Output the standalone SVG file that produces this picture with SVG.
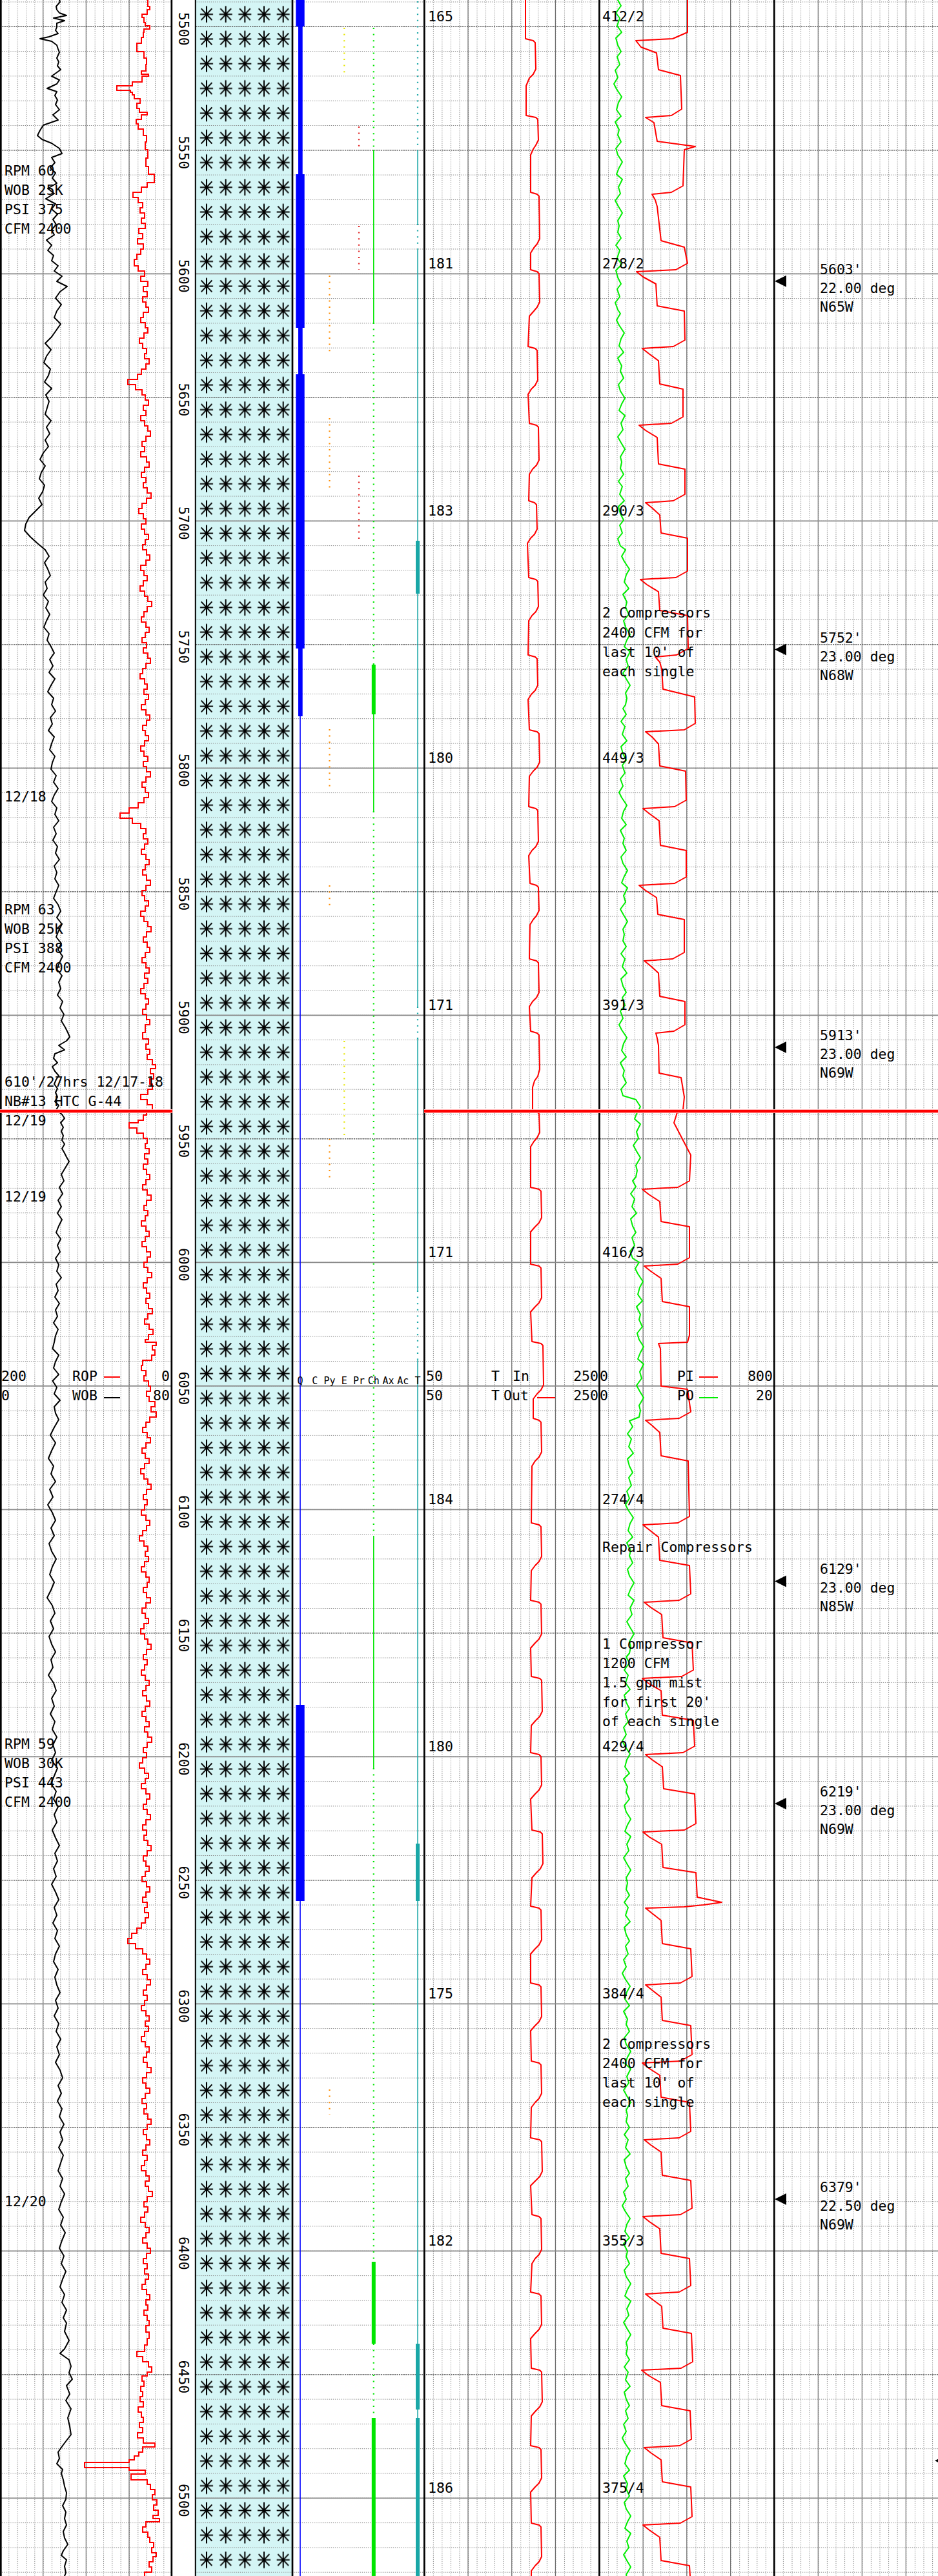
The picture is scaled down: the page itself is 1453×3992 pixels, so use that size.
<svg xmlns="http://www.w3.org/2000/svg" width="1453" height="3992" viewBox="0 0 1453 3992">
<defs>
<style>
text{font-family:"DejaVu Sans Mono","Liberation Mono",monospace;font-size:21.5px;fill:#000}
.sm{font-size:15px}
.ctr{text-anchor:middle}
.end{text-anchor:end}
.gmaj{stroke:#707070;stroke-width:1.2;fill:none}
.h50{stroke:#505050;stroke-width:1.2;stroke-dasharray:2 1.5;fill:none}
.h100{stroke:#8a8a8a;stroke-width:1.7;fill:none}
.bd{stroke:#000;fill:none}
.crv{fill:none;stroke-linejoin:round;stroke-linecap:round}
.dot{fill:none;stroke-width:2.2;stroke-dasharray:2 7.6}
.sol{fill:none;stroke-width:1.5}
.thk{fill:none;stroke-width:6}
.cg{stroke:#00e600}.cc{stroke:#1aa7a7}.cy{stroke:#e6e600}.cr{stroke:#e02020}.co{stroke:#ff8c00}
</style>
<pattern id="v1" patternUnits="userSpaceOnUse" x="0" y="0" width="13.333" height="3"><rect width="1" height="1.3" fill="#8c8c8c"/></pattern>
<pattern id="vT" patternUnits="userSpaceOnUse" x="657.3" y="0" width="13.54" height="3"><rect width="1" height="1.3" fill="#8c8c8c"/></pattern>
<pattern id="vP" patternUnits="userSpaceOnUse" x="928.4" y="0" width="13.55" height="3"><rect width="1" height="1.3" fill="#8c8c8c"/></pattern>
<pattern id="vA" patternUnits="userSpaceOnUse" x="1199.3" y="0" width="13.6" height="3"><rect width="1" height="1.3" fill="#8c8c8c"/></pattern>
<pattern id="hm" patternUnits="userSpaceOnUse" x="0" y="2.5" width="3" height="38.3"><rect width="1.3" height="1" fill="#8c8c8c"/></pattern>
<pattern id="lith" patternUnits="userSpaceOnUse" x="305.17" y="3" width="29.67" height="38.3">
<path d="M14.83,6.5V31.8M4.8,19.15H24.86M6.5,10.2L23.2,28.1M23.2,10.2L6.5,28.1" stroke="#000" stroke-width="2" fill="none"/>
</pattern>
</defs>

<g id="grid">
<rect x="303" y="0" width="150" height="3992" fill="#d4f5f5"/>
<rect x="0" y="0" width="266" height="3992" fill="url(#v1)"/>
<rect x="657.3" y="0" width="271" height="3992" fill="url(#vT)"/>
<rect x="928.4" y="0" width="271" height="3992" fill="url(#vP)"/>
<rect x="1199.3" y="0" width="254" height="3992" fill="url(#vA)"/>
<rect x="0" y="0" width="266" height="3992" fill="url(#hm)"/>
<rect x="303" y="0" width="1150" height="3992" fill="url(#hm)"/>
<path class="gmaj" d="M66.67,0V3992M133.33,0V3992M200,0V3992M725,0V3992M792.7,0V3992M860.4,0V3992M996.1,0V3992M1063.8,0V3992M1131.6,0V3992M1267.3,0V3992M1335.3,0V3992M1403.3,0V3992"/>
<path class="h50" d="M0,41.3H266M303,41.3H1453M0,232.8H266M303,232.8H1453M0,615.8H266M303,615.8H1453M0,998.8H266M303,998.8H1453M0,1381.8H266M303,1381.8H1453M0,1764.8H266M303,1764.8H1453M0,2530.8H266M303,2530.8H1453M0,2913.8H266M303,2913.8H1453M0,3296.8H266M303,3296.8H1453M0,3679.8H266M303,3679.8H1453"/>
<path class="h100" d="M0,424.3H266M303,424.3H1453M0,807.3H266M303,807.3H1453M0,1190.3H266M303,1190.3H1453M0,1573.3H266M303,1573.3H1453M0,1956.3H266M303,1956.3H1453M0,2147.8H266M303,2147.8H1453M0,2339.3H266M303,2339.3H1453M0,2722.3H266M303,2722.3H1453M0,3105.3H266M303,3105.3H1453M0,3488.3H266M303,3488.3H1453M0,3871.3H266M303,3871.3H1453"/>
</g>

<g id="lithology">
<rect x="303" y="0" width="150" height="3992" fill="url(#lith)"/>
</g>

<g id="borders">
<path class="bd" stroke-width="2.7" d="M1.3,0V3992M265.8,0V3992M453,0V3992M657.3,0V3992M928.4,0V3992M1199.3,0V3992"/>
<path class="bd" stroke-width="2" d="M302.8,0V3992"/>
</g>

<g id="depths">
<text x="277" y="44.8" transform="rotate(90 277 44.8)" class="ctr">5500</text>
<text x="277" y="236.3" transform="rotate(90 277 236.3)" class="ctr">5550</text>
<text x="277" y="427.8" transform="rotate(90 277 427.8)" class="ctr">5600</text>
<text x="277" y="619.3" transform="rotate(90 277 619.3)" class="ctr">5650</text>
<text x="277" y="810.8" transform="rotate(90 277 810.8)" class="ctr">5700</text>
<text x="277" y="1002.3" transform="rotate(90 277 1002.3)" class="ctr">5750</text>
<text x="277" y="1193.8" transform="rotate(90 277 1193.8)" class="ctr">5800</text>
<text x="277" y="1385.3" transform="rotate(90 277 1385.3)" class="ctr">5850</text>
<text x="277" y="1576.8" transform="rotate(90 277 1576.8)" class="ctr">5900</text>
<text x="277" y="1768.3" transform="rotate(90 277 1768.3)" class="ctr">5950</text>
<text x="277" y="1959.8" transform="rotate(90 277 1959.8)" class="ctr">6000</text>
<text x="277" y="2151.3" transform="rotate(90 277 2151.3)" class="ctr">6050</text>
<text x="277" y="2342.8" transform="rotate(90 277 2342.8)" class="ctr">6100</text>
<text x="277" y="2534.3" transform="rotate(90 277 2534.3)" class="ctr">6150</text>
<text x="277" y="2725.8" transform="rotate(90 277 2725.8)" class="ctr">6200</text>
<text x="277" y="2917.3" transform="rotate(90 277 2917.3)" class="ctr">6250</text>
<text x="277" y="3108.8" transform="rotate(90 277 3108.8)" class="ctr">6300</text>
<text x="277" y="3300.3" transform="rotate(90 277 3300.3)" class="ctr">6350</text>
<text x="277" y="3491.8" transform="rotate(90 277 3491.8)" class="ctr">6400</text>
<text x="277" y="3683.3" transform="rotate(90 277 3683.3)" class="ctr">6450</text>
<text x="277" y="3874.8" transform="rotate(90 277 3874.8)" class="ctr">6500</text>
</g>

<g id="minerals">
<path d="M465,0V3992" stroke="#0000ff" stroke-width="1.6"/>
<g fill="#0000ff">
<rect x="458.3" y="0" width="13.4" height="41"/>
<rect x="462" y="41" width="6.7" height="229"/>
<rect x="458.3" y="270" width="13.4" height="238"/>
<rect x="462" y="508" width="6.7" height="72"/>
<rect x="458.3" y="580" width="13.4" height="425"/>
<rect x="462" y="1005" width="6.7" height="105"/>
<rect x="458.3" y="2642" width="13.4" height="304"/>
</g>
<path class="dot co" d="M510.5,427V546M510.5,648V762M510.5,1130V1219M510.5,1372V1410M510.5,1765V1830M510.5,3238V3277"/>
<path class="dot cy" d="M533.3,43V118M533.3,1613V1760"/>
<path class="dot cr" d="M556,196V228M556,350V418M556,737V838"/>
<path class="dot cg" d="M578.8,43V232M578.8,500V1030M578.8,1257V2380M578.8,2740V3505M578.8,3632V3747"/>
<path class="sol cg" d="M578.8,232V500M578.8,1107V1257M578.8,2380V2740"/>
<path class="thk cg" d="M578.8,1030V1107M578.8,3505V3632M578.8,3747V3992"/>
<path class="dot cc" d="M647,2V232M647,347V385M647,1560V1610M647,2000V2108"/>
<path class="sol cc" d="M647,232V347M647,385V838M647,920V1560M647,1610V2000M647,2108V2857M647,2946V3632M647,3734V3747"/>
<path class="thk cc" d="M647,838V920M647,2857V2946M647,3632V3734M647,3747V3992"/>
</g>

<g id="curves">
<use href="#rop" stroke="#ffb4b4" stroke-width="4.4"/>
<path id="rop" class="crv" stroke="#ff0000" stroke-width="2" d="M229,0V10H232V15H228V22H220V27H223V35H225V40H232V45H223V50H222V58H219V67H212V80H223V90H227V100H226V110H219V115H230V118H220V127H205V133H181V140H202V143H205V147H208V153H217V160H212V168H216V174H228V178H219V185H211V192H214V200H222V210H227V220H225V232H229V245H226V258H230V270H239V283H228V290H219V298H206V306H214V314H221V322H217V330H224V338H219V346H225V354H215V362H221V370H213V378H222V386H218V394H212V402H208V412H214V420H224V428H218V436H229V444H222V452H228V460H221V468H226V476H230V484H222V492H218V500H225V508H229V516H223V524H216V532H221V540H227V548H224V556H231V564H226V572H219V580H213V588H198V596H210V604H220V612H225V620H230V628H222V636H226V644H218V652H224V660H229V668H233V676H226V684H220V692H224V700H218V708H227V716H231V724H224V732H219V740H226V748H222V756H228V764H234V772H227V780H220V788H215V796H222V804H226V812H219V820H224V828H230V836H225V844H221V852H227V860H232V868H226V876H218V884H223V892H228V900H222V908H217V916H224V924H229V932H235V940H228V948H223V956H219V964H226V972H231V980H225V988H220V996H227V1004H222V1012H229V1020H233V1028H226V1036H221V1044H217V1052H224V1060H228V1068H223V1076H230V1084H225V1092H219V1100H226V1108H232V1116H227V1124H221V1132H225V1140H230V1148H224V1156H218V1164H223V1172H229V1180H222V1188H227V1196H233V1204H226V1212H220V1220H225V1228H230V1236H223V1244H214V1252H200V1260H186V1268H205V1276H218V1284H226V1292H222V1300H229V1308H224V1316H219V1324H226V1332H231V1340H225V1348H221V1356H227V1364H233V1372H226V1380H220V1388H224V1396H230V1404H225V1412H218V1420H223V1428H229V1436H234V1444H227V1452H222V1460H228V1468H232V1476H225V1484H220V1492H226V1500H231V1508H224V1516H229V1524H223V1532H218V1540H225V1548H230V1556H226V1564H221V1572H227V1580H232V1588H225V1600H221V1610H230V1618H226V1626H232V1634H228V1642H236V1650H241V1656H233V1664H238V1672H232V1680H236V1688H229V1696H218V1704H228V1712H236V1720H227V1728H222V1736H214V1740H200V1748H212V1756H222V1764H228V1772H225V1780H231V1788H224V1796H229V1804H222V1812H227V1820H232V1828H226V1836H221V1844H228V1852H234V1860H227V1868H223V1876H229V1884H225V1892H219V1900H226V1908H231V1916H225V1924H220V1932H227V1940H233V1948H228V1956H223V1964H229V1972H235V1980H228V1988H222V1996H227V2004H232V2012H226V2020H230V2028H236V2036H229V2044H224V2052H231V2060H237V2068H230V2076H225V2080H242V2085H236V2092H240V2100H235V2108H221V2116H219V2124H226V2132H223V2140H230V2148H233V2156H227V2164H231V2172H240V2180H234V2188H242V2196H232V2204H226V2212H221V2220H228V2228H233V2236H226V2244H220V2252H225V2260H231V2268H224V2276H218V2284H223V2292H229V2300H234V2308H227V2316H222V2324H228V2332H224V2340H219V2348H226V2356H232V2364H227V2372H221V2380H216V2388H223V2396H229V2404H225V2412H230V2420H224V2428H219V2436H226V2444H231V2452H228V2460H222V2468H227V2476H233V2484H226V2492H220V2500H225V2508H230V2516H223V2524H218V2532H224V2540H229V2548H234V2556H227V2564H222V2572H228V2580H224V2588H219V2596H225V2604H231V2612H226V2620H221V2628H227V2636H232V2644H225V2652H220V2660H226V2668H231V2676H224V2684H229V2692H235V2700H228V2708H222V2716H227V2724H221V2732H216V2740H224V2748H230V2756H225V2764H219V2772H226V2780H232V2788H227V2796H222V2804H228V2812H233V2820H226V2828H221V2836H227V2844H223V2852H229V2860H234V2868H228V2876H222V2884H226V2892H231V2900H225V2908H220V2916H227V2924H232V2932H226V2940H221V2948H228V2956H224V2964H230V2972H225V2980H219V2988H212V2996H204V3004H198V3012H210V3020H221V3028H227V3036H232V3044H226V3052H221V3060H228V3068H233V3076H227V3084H222V3092H228V3100H224V3108H219V3116H226V3124H231V3132H225V3140H230V3148H224V3156H219V3164H225V3172H231V3180H227V3188H222V3196H228V3204H234V3212H227V3220H221V3228H226V3236H232V3244H225V3252H220V3260H227V3268H223V3276H229V3284H234V3292H228V3300H222V3308H227V3316H232V3324H226V3332H221V3340H228V3348H224V3356H219V3364H226V3372H231V3380H225V3388H230V3396H236V3404H228V3412H223V3420H229V3428H224V3436H218V3444H225V3452H231V3460H226V3468H221V3476H228V3484H233V3492H227V3500H222V3508H228V3516H224V3524H230V3532H225V3540H220V3548H227V3556H232V3564H226V3572H229V3580H223V3588H228V3596H231V3604H226V3614H231V3624H228V3634H224V3644H212V3652H221V3660H230V3668H235V3676H228V3682H220V3690H223V3698H218V3706H221V3714H217V3722H222V3730H214V3738H219V3746H222V3754H216V3762H221V3770H213V3778H222V3786H240V3792H221V3800H215V3806H208V3812H200V3816H131V3824H200V3828H225V3834H203V3843H228V3850H233V3858H240V3866H236V3874H243V3882H238V3890H245V3898H237V3903H247V3908H226V3916H221V3924H229V3932H232V3940H238V3948H235V3956H242V3962H237V3970H231V3978H235V3986H224V3992"/>
<polyline id="wob" class="crv" stroke="#000" stroke-width="2" points="92,0 93,3 87,10 88,15 92,20 103,24 83,28 100,32 88,36 88,42 86,47 90,52 76,57 62,60 80,64 88,70 90,76 92,81 88,90 91,96 89,102 94,108 80,118 92,124 88,130 73,137 88,142 85,148 89,155 86,162 92,170 82,178 90,186 67,194 62,202 58,210 65,216 80,222 92,230 96,238 80,244 85,252 78,260 86,268 81,276 88,284 74,292 84,300 71,308 86,316 80,324 89,332 82,340 87,348 80,356 84,364 72,372 80,380 74,388 83,396 80,404 90,412 84,420 96,428 88,436 104,444 93,452 86,462 95,472 88,482 84,492 94,502 87,512 80,522 70,532 79,542 72,552 68,562 78,572 75,582 69,592 80,602 71,612 76,622 73,632 70,642 79,652 72,662 77,672 70,682 75,692 67,702 62,712 70,722 64,732 61,742 69,752 66,762 60,772 65,782 55,792 45,802 40,812 38,822 47,832 58,842 70,852 76,862 69,872 74,882 78,892 70,902 73,912 67,922 75,932 71,942 77,952 72,962 68,972 76,982 73,992 79,1002 84,1012 77,1022 82,1032 76,1042 85,1052 79,1062 74,1072 83,1082 80,1092 86,1102 78,1112 81,1122 75,1132 84,1142 80,1152 77,1162 85,1172 81,1182 79,1192 87,1202 83,1212 90,1222 84,1232 80,1242 88,1252 85,1262 91,1272 83,1282 87,1292 82,1302 89,1312 86,1322 92,1332 84,1342 88,1352 85,1362 91,1372 87,1382 83,1392 90,1402 94,1412 88,1422 96,1432 91,1442 87,1452 95,1462 90,1472 97,1482 92,1492 88,1502 96,1512 91,1522 94,1532 89,1542 97,1552 93,1562 99,1572 95,1582 101,1592 105,1600 108,1607 103,1613 91,1620 100,1627 85,1633 83,1640 89,1647 81,1653 85,1660 91,1667 87,1673 84,1680 89,1687 86,1693 89,1700 85,1707 91,1713 87,1720 96,1727 100,1733 94,1740 98,1747 95,1753 98,1760 96,1767 100,1773 96,1780 100,1787 103,1793 107,1800 101,1810 95,1820 99,1830 92,1840 97,1850 90,1860 95,1870 89,1880 96,1890 91,1900 87,1910 94,1920 89,1930 93,1940 86,1950 91,1960 88,1970 95,1980 87,1990 90,2000 85,2010 92,2020 86,2030 89,2040 83,2050 90,2060 86,2070 84,2080 81.5,2090 91,2100 86,2110 83,2120 91,2130 81.5,2140 88,2150 84,2160 93,2170 84,2180 86,2190 91,2200 84,2212 78,2224 86,2236 80,2248 75,2260 83,2272 79,2284 86,2296 77,2308 82,2320 74,2332 81,2344 86,2356 79,2368 84,2380 76,2392 80,2404 87,2416 81,2428 77,2440 84,2452 79,2464 73,2476 81,2488 85,2500 78,2512 83,2524 76,2536 80,2548 86,2560 79,2572 82,2584 75,2596 83,2608 87,2620 80,2632 84,2644 78,2656 85,2668 81,2680 88,2692 82,2704 86,2716 80,2728 89,2740 84,2752 79,2764 87,2776 83,2788 90,2800 84,2812 88,2824 81,2836 86,2848 92,2860 85,2872 89,2884 83,2896 87,2908 80,2920 86,2932 91,2944 84,2956 88,2968 82,2980 89,2992 85,3004 92,3016 86,3028 83,3040 90,3052 85,3064 88,3076 93,3088 86,3100 90,3112 84,3124 91,3136 87,3148 94,3160 88,3172 92,3184 86,3196 93,3208 97,3220 90,3232 95,3244 89,3256 96,3268 92,3280 99,3292 93,3304 97,3316 91,3328 98,3340 94,3352 90,3364 97,3376 93,3388 100,3400 95,3412 91,3424 98,3436 94,3448 101,3460 96,3472 92,3484 99,3496 95,3508 102,3520 97,3532 93,3544 100,3556 96,3568 103,3580 98,3592 103,3600 100,3613 107,3627 100,3640 93,3647 107,3657 110,3667 107,3677 112,3687 103,3697 108,3710 102,3720 110,3733 105,3747 108,3760 110,3773 103,3782 97,3790 90,3800 92,3810 88,3818 97,3827 95,3833 98,3843 100,3853 103,3863 102,3873 97,3883 102,3893 100,3903 103,3913 98,3923 100,3933 105,3943 98,3953 95,3960 103,3967 100,3977 102,3987 100,3992"/>
<path id="temp" class="crv" stroke="#ff0000" stroke-width="2" d="M814,0L814,60L826,63L829,66L830,107L826,115L820,121L815,133L815,179L830,182L833,185L834,217L830,225L826,231L822,240L822,298L832,301L835,304L836,370L832,378L827,384L822,392L822,418L832,421L835,424L836,468L832,476L827,482L820,490L818,537L829,540L832,543L833,589L829,597L823,603L818,611L820,656L831,659L834,662L835,713L831,721L825,727L820,735L819,776L828,779L831,782L832,820L828,828L822,834L817,842L819,895L830,898L833,901L834,940L830,948L824,954L819,962L818,1015L829,1018L832,1021L833,1062L829,1070L823,1076L818,1084L820,1131L832,1134L835,1137L836,1181L832,1189L826,1195L820,1203L819,1250L830,1253L833,1256L834,1304L830,1312L824,1318L819,1326L821,1369L831,1372L834,1375L835,1411L831,1419L826,1425L821,1433L820,1486L831,1489L834,1492L835,1538L831,1546L825,1552L820,1560L822,1598L832,1601L835,1604L836,1657L833,1668L828,1675L825,1685L825,1720L832,1723L835,1726L836,1755L832,1763L827,1769L822,1777L822,1840L835,1843L838,1846L839,1887L835,1895L829,1901L822,1909L822,1959L835,1962L838,1965L839,2011L835,2019L829,2025L822,2033L824,2079L838,2082L841,2085L842,2146L838,2154L832,2160L826,2168L826,2198L835,2201L838,2204L839,2250L835,2258L829,2264L824,2272L823,2360L835,2363L838,2366L839,2412L835,2420L829,2426L823,2434L822,2480L835,2483L838,2486L839,2532L835,2540L829,2546L822,2554L823,2598L836,2601L839,2604L840,2652L836,2660L830,2666L823,2674L822,2716L835,2719L838,2722L839,2766L835,2774L829,2780L822,2788L824,2836L837,2839L840,2842L841,2888L837,2896L831,2902L824,2910L822,2954L835,2957L838,2960L839,3006L835,3014L829,3020L822,3028L822,3073L835,3076L838,3079L839,3125L835,3133L829,3139L822,3147L823,3194L835,3197L838,3200L839,3244L835,3252L829,3258L823,3266L822,3313L836,3316L839,3319L840,3365L836,3373L830,3379L822,3387L824,3432L835,3435L838,3438L839,3486L835,3494L829,3500L824,3508L822,3552L835,3555L838,3558L839,3602L835,3610L829,3616L822,3624L823,3670L836,3673L839,3676L840,3722L836,3730L830,3736L823,3744L822,3790L835,3793L838,3796L839,3840L835,3848L829,3854L822,3862L823,3910L835,3913L838,3916L839,3962L835,3970L829,3976L823,3984L823,3992"/>
<path id="pi" class="crv" stroke="#ff0000" stroke-width="2" d="M1065,0L1065,50L1042,60L985,63L993,73L1017,82L1020,108L1054,117L1056,169L1040,179L1000,182L1013,190L1018,219L1077,227L1060,232L1058,288L1040,298L1010,301L1015,310L1018,320L1024,373L1060,383L1065,408L1047,418L986,421L996,429L1016,440L1018,474L1060,482L1061,527L1043,537L995,540L1005,548L1020,559L1022,595L1058,603L1058,646L1040,656L990,659L1000,667L1018,678L1020,719L1061,727L1061,766L1043,776L1000,779L1010,787L1022,798L1024,826L1065,834L1065,885L1047,895L992,898L1002,906L1020,917L1022,946L1065,954L1066,1005L1048,1015L1015,1018L1022,1026L1025,1037L1027,1068L1076,1080L1077,1121L1060,1131L1000,1134L1010,1142L1020,1153L1022,1187L1062,1195L1063,1240L1045,1250L996,1253L1006,1261L1021,1272L1023,1310L1063,1318L1063,1359L1045,1369L990,1372L1000,1380L1017,1391L1019,1417L1060,1425L1060,1476L1042,1486L998,1489L1008,1497L1020,1508L1022,1544L1061,1552L1061,1588L1044,1598L1016,1601L1018,1609L1020,1620L1021,1663L1055,1670L1060,1700L1058,1720L1049,1724L1044,1740L1057,1765L1070,1790L1068,1830L1050,1840L995,1843L1005,1851L1022,1862L1024,1893L1068,1901L1068,1949L1050,1959L998,1962L1008,1970L1024,1981L1026,2017L1068,2025L1068,2069L1065,2080L1020,2082L1023,2090L1024,2148L1065,2153L1070,2188L1052,2198L1000,2201L1010,2209L1022,2220L1024,2256L1066,2264L1068,2350L1050,2360L996,2363L1006,2371L1020,2382L1022,2418L1068,2426L1070,2470L1052,2480L998,2483L1008,2491L1025,2502L1027,2538L1072,2546L1074,2588L1056,2598L995,2601L1005,2609L1024,2620L1026,2658L1074,2666L1076,2706L1058,2716L1000,2719L1010,2727L1026,2738L1028,2772L1076,2780L1078,2826L1060,2836L996,2839L1006,2847L1025,2858L1027,2894L1078,2902L1080,2940L1118,2948L1090,2952L1060,2955L1000,2957L1010,2965L1024,2976L1026,3012L1070,3020L1072,3063L1054,3073L1000,3076L1010,3084L1024,3095L1026,3131L1070,3139L1072,3184L1054,3194L995,3197L1005,3205L1022,3216L1024,3250L1068,3258L1070,3303L1052,3313L998,3316L1008,3324L1024,3335L1026,3371L1070,3379L1072,3422L1054,3432L996,3435L1006,3443L1022,3454L1024,3492L1068,3500L1070,3542L1052,3552L1000,3555L1010,3563L1025,3574L1027,3608L1071,3616L1073,3660L1055,3670L994,3673L1004,3681L1023,3692L1025,3728L1069,3736L1071,3780L1053,3790L998,3793L1008,3801L1024,3812L1026,3846L1070,3854L1072,3900L1054,3910L996,3913L1006,3921L1022,3932L1024,3968L1068,3976L1069,3992"/>
<path id="po" class="crv" stroke="#00ee00" stroke-width="2" d="M957,0l5,9 -8,11 6,8 -4,12 7,10 -9,9 3,11 5,10 -6,8 4,12 -7,9 4,11l-6,10 4,8 8,12 -5,9 -3,11 7,10 -9,9 6,12 -2,8 5,11 -8,10 3,10l7,11 -5,9 -4,10 9,8 -6,12 3,10 -8,11 5,9 6,10 -7,12 2,8 -2,10l5,9 -8,11 6,8 -4,12 7,10 -9,9 3,11 5,10 -6,8 4,12 -7,9 4,11l4,6l-6,10 4,8 8,12 -5,9 -3,11 7,10 -9,9 6,12 -2,8 5,11 -8,10 3,10l7,11 -5,9 -4,10 9,8 -6,12 3,10 -8,11 5,9 6,10 -7,12 2,8 -2,10l5,9 -8,11 6,8 -4,12 7,10 -9,9 3,11 5,10 -6,8 4,12 -7,9 4,11l8,6l-6,10 4,8 8,12 -5,9 -3,11 7,10 -9,9 6,12 -2,8 5,11 -8,10 3,10l7,11 -5,9 -4,10 9,8 -6,12 3,10 -8,11 5,9 6,10 -7,12 2,8 -2,10l-4,6l5,9 -8,11 6,8 -4,12 7,10 -9,9 3,11 5,10 -6,8 4,12 -7,9 4,11l-6,10 4,8 8,12 -5,9 -3,11 7,10 -9,9 6,12 -2,8 5,11 -8,10 3,10l7,11 -5,9 -4,10 9,8 -6,12 3,10 -8,11 5,9 6,10 -7,12 2,8 -2,10l5,9 -8,11 6,8 -4,12 7,10 -9,9 3,11 5,10 -6,8 4,12 -7,9 4,11l-6,10 4,8 8,12 -5,9 -3,11 7,10 -9,9 6,12 -2,8 5,11 -8,10 3,10l20,6l7,11 -5,9 -4,10 9,8 -6,12 3,10 -8,11 5,9 6,10 -7,12 2,8 -2,10l-5,6l5,9 -8,11 6,8 -4,12 7,10 -9,9 3,11 5,10 -6,8 4,12 -7,9 4,11l10,6l-6,10 4,8 8,12 -5,9 -3,11 7,10 -9,9 6,12 -2,8 5,11 -8,10 3,10l7,11 -5,9 -4,10 9,8 -6,12 3,10 -8,11 5,9 6,10 -7,12 2,8 -2,10l-15,6l5,9 -8,11 6,8 -4,12 7,10 -9,9 3,11 5,10 -6,8 4,12 -7,9 4,11l-6,10 4,8 8,12 -5,9 -3,11 7,10 -9,9 6,12 -2,8 5,11 -8,10 3,10l7,11 -5,9 -4,10 9,8 -6,12 3,10 -8,11 5,9 6,10 -7,12 2,8 -2,10l-5,6l5,9 -8,11 6,8 -4,12 7,10 -9,9 3,11 5,10 -6,8 4,12 -7,9 4,11l-6,10 4,8 8,12 -5,9 -3,11 7,10 -9,9 6,12 -2,8 5,11 -8,10 3,10l7,11 -5,9 -4,10 9,8 -6,12 3,10 -8,11 5,9 6,10 -7,12 2,8 -2,10l5,9 -8,11 6,8 -4,12 7,10 -9,9 3,11 5,10 -6,8 4,12 -7,9 4,11l-6,10 4,8 8,12 -5,9 -3,11 7,10 -9,9 6,12 -2,8 5,11 -8,10 3,10l7,11 -5,9 -4,10 9,8 -6,12 3,10 -8,11 5,9 6,10 -7,12 2,8 -2,10l5,9 -8,11 6,8 -4,12 7,10 -9,9 3,11 5,10 -6,8 4,12 -7,9 4,11l-6,10 4,8 8,12 -5,9 -3,11 7,10 -9,9 6,12 -2,8 5,11 -8,10 3,10l7,11 -5,9 -4,10 9,8 -6,12 3,10 -8,11 5,9 6,10 -7,12 2,8 -2,10l5,9 -8,11 6,8 -4,12 7,10 -9,9 3,11 5,10 -6,8 4,12 -7,9 4,11l-6,10 4,8 8,12 -5,9 -3,11 7,10 -9,9 6,12 -2,8 5,11 -8,10 3,10l7,11 -5,9 -4,10 9,8 -6,12 3,10 -8,11 5,9 6,10 -7,12 2,8 -2,10"/>
</g>

<g id="bitline">
<path d="M0,1722H267M657,1722H1453" stroke="#ffb4b4" stroke-width="6"/>
<path d="M0,1722H267M657,1722H1453" stroke="#ff0000" stroke-width="4"/>
</g>

<g id="header">
<text x="2" y="2140">200</text>
<text x="112" y="2140">ROP</text>
<path d="M161,2134H186" stroke="#ff0000" stroke-width="2"/>
<text x="263" y="2140" class="end">0</text>
<text x="2" y="2170">0</text>
<text x="112" y="2170">WOB</text>
<path d="M161,2166H186" stroke="#000" stroke-width="2"/>
<text x="263" y="2170" class="end">80</text>
<g>
<text x="465" y="2145" class="sm ctr">Q</text>
<text x="487.8" y="2145" class="sm ctr">C</text>
<text x="510.5" y="2145" class="sm ctr">Py</text>
<text x="533.3" y="2145" class="sm ctr">E</text>
<text x="556" y="2145" class="sm ctr">Pr</text>
<text x="578.8" y="2145" class="sm ctr">Ch</text>
<text x="601.5" y="2145" class="sm ctr">Ax</text>
<text x="624.3" y="2145" class="sm ctr">Ac</text>
<text x="647" y="2145" class="sm ctr">T</text>
</g>
<text x="660" y="2140">50</text>
<text x="761" y="2140">T</text>
<text x="794" y="2140">In</text>
<text x="927" y="2140" class="end">250</text>
<text x="660" y="2170">50</text>
<text x="761" y="2170">T</text>
<text x="780" y="2170">Out</text>
<path d="M832,2166H860" stroke="#ff0000" stroke-width="2"/>
<text x="927" y="2170" class="end">250</text>
<text x="929" y="2140">0</text>
<text x="1049" y="2140">PI</text>
<path d="M1083,2134H1112" stroke="#ff0000" stroke-width="2"/>
<text x="1197" y="2140" class="end">800</text>
<text x="929" y="2170">0</text>
<text x="1049" y="2170">PO</text>
<path d="M1083,2166H1112" stroke="#00ee00" stroke-width="2"/>
<text x="1197" y="2170" class="end">20</text>
</g>

<g id="track1-notes">
<text x="7" y="272">RPM 60</text>
<text x="7" y="302">WOB 25K</text>
<text x="7" y="332">PSI 375</text>
<text x="7" y="362">CFM 2400</text>
<text x="7" y="1242">12/18</text>
<text x="7" y="1417">RPM 63</text>
<text x="7" y="1447">WOB 25K</text>
<text x="7" y="1477">PSI 388</text>
<text x="7" y="1507">CFM 2400</text>
<text x="7" y="1684">610'/27hrs 12/17-18</text>
<text x="7" y="1714">NB#13 HTC G-44</text>
<text x="7" y="1744">12/19</text>
<text x="7" y="1862">12/19</text>
<text x="7" y="2710">RPM 59</text>
<text x="7" y="2740">WOB 30K</text>
<text x="7" y="2770">PSI 443</text>
<text x="7" y="2800">CFM 2400</text>
<text x="7" y="3419">12/20</text>
</g>

<g id="temp-labels">
<text x="663" y="33.3">165</text>
<text x="663" y="416.3">181</text>
<text x="663" y="799.3">183</text>
<text x="663" y="1182.3">180</text>
<text x="663" y="1565.3">171</text>
<text x="663" y="1948.3">171</text>
<text x="663" y="2331.3">184</text>
<text x="663" y="2714.3">180</text>
<text x="663" y="3097.3">175</text>
<text x="663" y="3480.3">182</text>
<text x="663" y="3863.3">186</text>
</g>

<g id="pressure-labels">
<text x="933" y="33.3">412/2</text>
<text x="933" y="416.3">278/2</text>
<text x="933" y="799.3">290/3</text>
<text x="933" y="956.7">2 Compressors</text>
<text x="933" y="987.7">2400 CFM for</text>
<text x="933" y="1017.7">last 10' of</text>
<text x="933" y="1047.7">each single</text>
<text x="933" y="1182.3">449/3</text>
<text x="933" y="1565.3">391/3</text>
<text x="933" y="1948.3">416/3</text>
<text x="933" y="2331.3">274/4</text>
<text x="933" y="2405">Repair Compressors</text>
<text x="933" y="2555">1 Compressor</text>
<text x="933" y="2585">1200 CFM</text>
<text x="933" y="2615">1.5 gpm mist</text>
<text x="933" y="2645">for first 20'</text>
<text x="933" y="2675">of each single</text>
<text x="933" y="2714.3">429/4</text>
<text x="933" y="3097.3">384/4</text>
<text x="933" y="3175">2 Compressors</text>
<text x="933" y="3205">2400 CFM for</text>
<text x="933" y="3235">last 10' of</text>
<text x="933" y="3265">each single</text>
<text x="933" y="3480.3">355/3</text>
<text x="933" y="3863.3">375/4</text>
</g>

<g id="surveys">
<g id="s5603"><path d="M1200,435.8L1218,426.8V444.8Z" fill="#000"/><text x="1270" y="425">5603'</text><text x="1270" y="454">22.00 deg</text><text x="1270" y="483">N65W</text></g>
<g id="s5752"><path d="M1200,1006.5L1218,997.5V1015.5Z" fill="#000"/><text x="1270" y="995.5">5752'</text><text x="1270" y="1024.5">23.00 deg</text><text x="1270" y="1053.5">N68W</text></g>
<g id="s5913"><path d="M1200,1623.1L1218,1614.1V1632.1Z" fill="#000"/><text x="1270" y="1612">5913'</text><text x="1270" y="1641">23.00 deg</text><text x="1270" y="1670">N69W</text></g>
<g id="s6129"><path d="M1200,2450.4L1218,2441.4V2459.4Z" fill="#000"/><text x="1270" y="2439.4">6129'</text><text x="1270" y="2468.4">23.00 deg</text><text x="1270" y="2497.4">N85W</text></g>
<g id="s6219"><path d="M1200,2795.1L1218,2786.1V2804.1Z" fill="#000"/><text x="1270" y="2784">6219'</text><text x="1270" y="2813">23.00 deg</text><text x="1270" y="2842">N69W</text></g>
<g id="s6379"><path d="M1200,3407.9L1218,3398.9V3416.9Z" fill="#000"/><text x="1270" y="3397">6379'</text><text x="1270" y="3426">22.50 deg</text><text x="1270" y="3455">N69W</text></g>
<g id="s6485"><path d="M1448,3813.3L1466,3804.3V3822.3Z" fill="#000"/></g>
</g>
</svg>
